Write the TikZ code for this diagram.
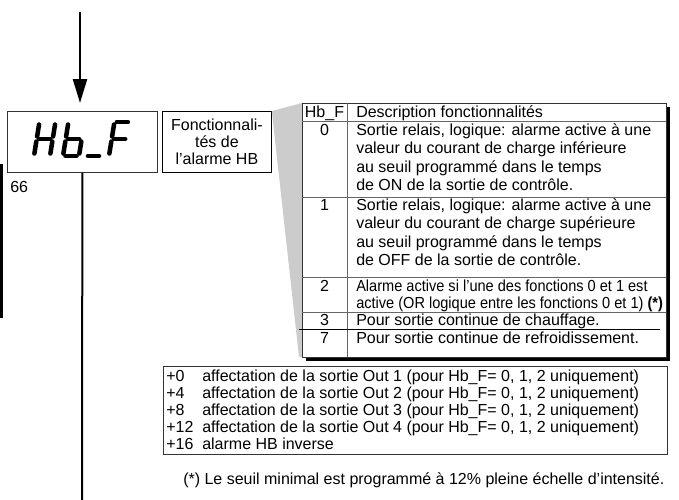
\documentclass[tikz,border=0pt]{standalone}
\usepackage{graphicx}
\usepackage{fontspec}
\setmainfont{Liberation Sans}
\usetikzlibrary{arrows.meta}
\newcommand\lcdseg[6]{\draw[lcd] ({#1+#3+0.16*#4},{#2-#4}) -- ({#1+#5+0.16*#6},{#2-#6});}
\newcommand\lcdA[2]{\lcdseg{#1}{#2}{2.5}{34}{13.5}{34}}
\newcommand\lcdB[2]{\lcdseg{#1}{#2}{16}{31.5}{16}{19.5}}
\newcommand\lcdC[2]{\lcdseg{#1}{#2}{16}{14.5}{16}{2.5}}
\newcommand\lcdD[2]{\lcdseg{#1}{#2}{2.5}{0}{13.5}{0}}
\newcommand\lcdE[2]{\lcdseg{#1}{#2}{0}{14.5}{0}{2.5}}
\newcommand\lcdF[2]{\lcdseg{#1}{#2}{0}{31.5}{0}{19.5}}
\newcommand\lcdG[2]{\lcdseg{#1}{#2}{2.5}{17}{13.5}{17}}
\newcommand\condensed[1]{\scalebox{0.91}[1]{#1}}
\begin{document}
\begin{tikzpicture}[x=0.75pt,y=-0.75pt,
  font=\fontsize{12}{14}\selectfont,
  lcd/.style={line width=3.4pt, line cap=round},
  txt/.style={anchor=base west, inner sep=0pt},
  ctxt/.style={anchor=base, inner sep=0pt},
  boxline/.style={draw=black!80, line width=0.6pt},
  sepline/.style={draw=black!60, line width=0.6pt},
  ]
\useasboundingbox (0,0) rectangle (679,500);

% left page bar
\fill (0,164) rectangle (3,318);

% display box
\node[boxline, anchor=north west, minimum width=112.5pt, minimum height=45.75pt, inner sep=0pt] (disp) at (7,111) {};
% LCD glyphs: H b _ F
\lcdB{34}{156}\lcdC{34}{156}\lcdE{34}{156}\lcdF{34}{156}\lcdG{34}{156}
\lcdC{63}{156}\lcdD{63}{156}\lcdE{63}{156}\lcdF{63}{156}\lcdG{63}{156}
\lcdD{85.5}{156}
\lcdA{109}{156}\lcdE{109}{156}\lcdF{109}{156}\lcdG{109}{156}

% incoming arrow
\coordinate (atop) at (80,12);
\coordinate (abot) at (80,103);
\draw[line width=1.9pt, -{Triangle[length=18pt,width=10.5pt]}] (atop) -- (abot);

% outgoing line
\coordinate (mbot) at (82,500);
\draw[line width=1.5pt] (disp.south) -- (mbot);

\node[anchor=base west, inner sep=0pt] (pg) at (10,192.5) {66};

% function box
\node[draw=black, line width=0.6pt, anchor=north west, minimum width=81.75pt, minimum height=45.75pt, inner sep=0pt,
      align=center, font=\fontsize{12}{12.9}\selectfont] (fonct) at (162,111) {Fonctionnali-\\tés de\\l’alarme HB};

% grey wedge
\fill[black!20] (fonct.north east) -- (302,103) -- (302,357) -- (299,357) -- cycle;

% table shadow and table
\fill (306,107) rectangle (670,361);
\fill[white] (302,103) rectangle (666,357);
\draw[boxline] (302,103) rectangle (666,357);
\draw[sepline] (347,103) -- (347,357);
\draw[sepline] (302,121) -- (666,121);
\draw[sepline] (302,197) -- (666,197);
\draw[sepline] (302,277) -- (666,277);
\draw[sepline] (302,312) -- (666,312);
\draw[black, line width=0.7pt] (299,329) -- (660,329);

\node[ctxt] (h0) at (324.5,117.5) {Hb\_F};
\node[txt] (h1) at (356,117.5) {Description fonctionnalités};

\node[ctxt] (n0) at (324.5,135) {0};
\node[txt] (d0a) at (356,135) {Sortie relais, logique: alarme active à une};
\node[txt] (d0b) at (356,153.5) {valeur du courant de charge inférieure};
\node[txt] (d0c) at (356,172) {au seuil programmé dans le temps};
\node[txt] (d0d) at (356,190.5) {de ON de la sortie de contrôle.};

\node[ctxt] (n1) at (324.5,210) {1};
\node[txt] (d1a) at (356,210) {Sortie relais, logique: alarme active à une};
\node[txt] (d1b) at (356,228.5) {valeur du courant de charge supérieure};
\node[txt] (d1c) at (356,247) {au seuil programmé dans le temps};
\node[txt] (d1d) at (356,265.5) {de OFF de la sortie de contrôle.};

\node[ctxt] (n2) at (324.5,291) {2};
\node[txt] (d2a) at (356,291) {\condensed{Alarme active si l’une des fonctions 0 et 1 est}};
\node[txt] (d2b) at (356,308) {\condensed{active (OR logique entre les fonctions 0 et 1) \textbf{(*)}}};

\node[ctxt] (n3) at (324.5,325.5) {3};
\node[txt] (d3) at (356,325.5) {Pour sortie continue de chauffage.};

\node[ctxt] (n7) at (324.5,343.5) {7};
\node[txt] (d7) at (356,343.5) {Pour sortie continue de refroidissement.};

% bottom box
\draw[boxline] (163,366) rectangle (667,454);
\node[txt] (o0) at (166,381) {+0};
\node[txt] (t0) at (202,381) {affectation de la sortie Out 1 (pour Hb\_F= 0, 1, 2 uniquement)};
\node[txt] (o4) at (166,398) {+4};
\node[txt] (t4) at (202,398) {affectation de la sortie Out 2 (pour Hb\_F= 0, 1, 2 uniquement)};
\node[txt] (o8) at (166,415) {+8};
\node[txt] (t8) at (202,415) {affectation de la sortie Out 3 (pour Hb\_F= 0, 1, 2 uniquement)};
\node[txt] (o12) at (166,432) {+12};
\node[txt] (t12) at (202,432) {affectation de la sortie Out 4 (pour Hb\_F= 0, 1, 2 uniquement)};
\node[txt] (o16) at (166,449) {+16};
\node[txt] (t16) at (202,449) {alarme HB inverse};

\node[txt] (foot) at (183,484.5) {(*) Le seuil minimal est programmé à 12\% pleine échelle d’intensité.};
\end{tikzpicture}
\end{document}
